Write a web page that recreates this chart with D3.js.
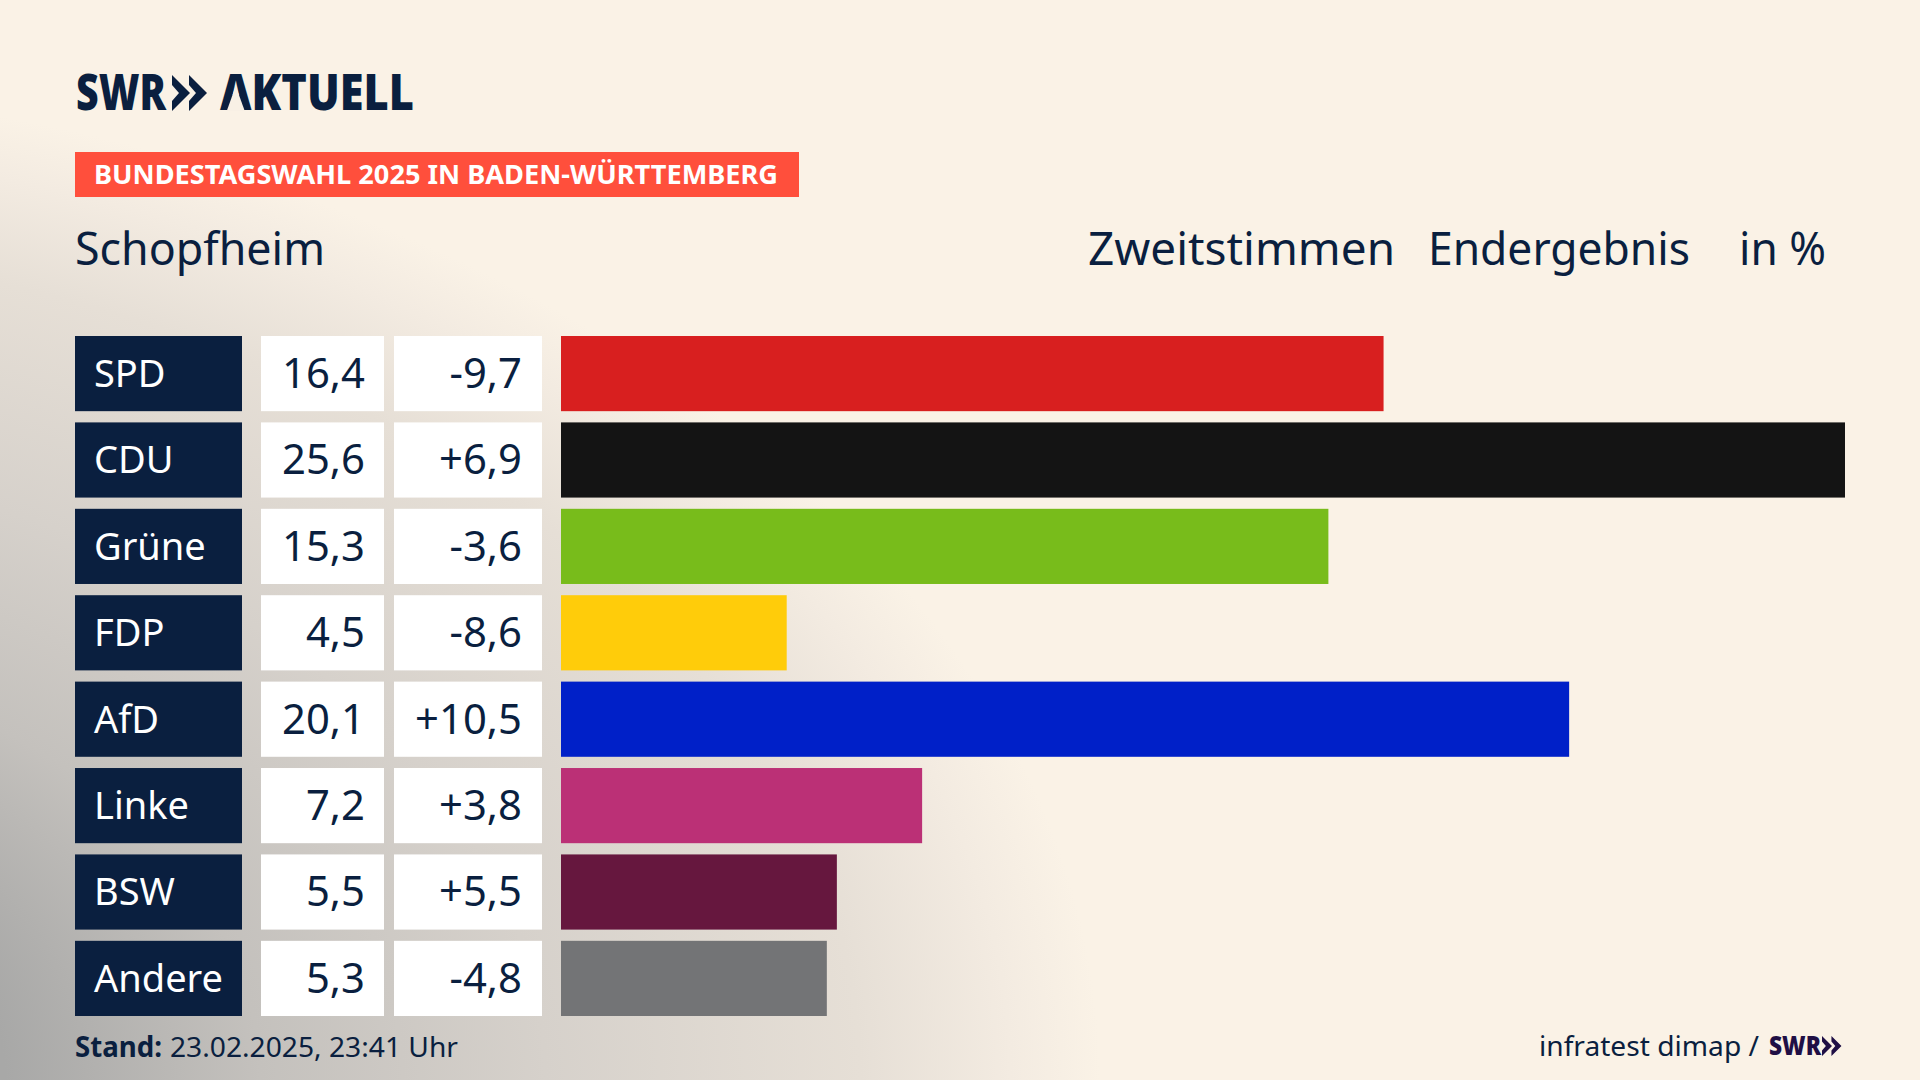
<!DOCTYPE html>
<html><head><meta charset="utf-8">
<script src="https://cdn.jsdelivr.net/npm/d3@7/dist/d3.min.js"></script>
<style>html,body{margin:0;padding:0;background:#FAF2E6;overflow:hidden}svg{display:block}text{font-family:"Noto Sans",sans-serif}</style>
</head><body><svg id="c" width="1920" height="1080"></svg>
<script>
const parties = ["SPD","CDU","Grüne","FDP","AfD","Linke","BSW","Andere"];
const shares = [16.4,25.6,15.3,4.5,20.1,7.2,5.5,5.3];
const changes = [-9.7,6.9,-3.6,-8.6,10.5,3.8,5.5,-4.8];
const colors = ["#D81F1F","#141414","#78BC1B","#FFCC0A","#0020C8","#BB3076","#66173E","#737476"];
const navy = "#0A1F3F";

const svg = d3.select("#c");
const defs = svg.append("defs");
const grad = defs.append("radialGradient").attr("id","bg").attr("gradientUnits","userSpaceOnUse")
  .attr("cx",0).attr("cy",0).attr("r",1)
  .attr("gradientTransform","translate(-400,1080) scale(1500,1000)");
[[0.27,"#A8A8A7"],[0.44,"#C4C1BD"],[0.63,"#D6D1CB"],[0.84,"#E6DFD6"],[0.94,"#F3EBE1"],[1,"#FAF2E6"]]
  .forEach(([o,c])=>grad.append("stop").attr("offset",o).attr("stop-color",c));
svg.append("rect").attr("width",1920).attr("height",1080).attr("fill","url(#bg)");

const x = d3.scaleLinear().domain([0,25.6]).range([561,1845]);
const y = d3.scaleBand().domain(parties).range([336,1016]).paddingInner(0.13);
const fmt = v => v.toFixed(1).replace(".",",");
const fmtD = v => (v>0?"+":"-")+Math.abs(v).toFixed(1).replace(".",",");

function put(str,px,py,size,fill,opt={}){
  const t = svg.append("text").attr("x",px).attr("y",py).attr("font-size",size).attr("fill",fill)
    .attr("font-weight",opt.w||400).attr("text-anchor",opt.a||"start").text(str);
  if(opt.width){t.attr("textLength",opt.width).attr("lengthAdjust","spacingAndGlyphs");}
  if(opt.k){const l=t.node().getComputedTextLength();t.attr("textLength",l*opt.k).attr("lengthAdjust","spacingAndGlyphs");}
  return t;
}
function chevrons(px,py,h,fill){
  const u=h/36, g=svg.append("g").attr("transform",`translate(${px},${py}) scale(${u})`).attr("fill",fill);
  [0,17].forEach(o=>g.append("polygon").attr("transform",`translate(${o},0)`)
    .attr("points","0,0 18,18 0,36 0,26 7,18 0,10"));
}

// logo
put("SWR",76,110,49,navy,{w:900,width:90});
chevrons(172,75,36,navy);
const ak = put("AKTUELL",220,110,49,navy,{w:900,width:194});
const aBox = ak.node().getExtentOfChar(0), ac = aBox.x+aBox.width/2;
svg.append("polygon").attr("fill","#F8F0E5")
  .attr("points",`${ac},86 ${ac+9},111 ${ac-9},111`);

// banner
svg.append("rect").attr("x",75).attr("y",152).attr("width",724).attr("height",45).attr("fill","#FF4F3C");
put("BUNDESTAGSWAHL 2025 IN BADEN-WÜRTTEMBERG",94,184,27,"#fff",{w:700,width:684});

// headers
put("Schopfheim",75,265,45,navy,{width:250});
put("Zweitstimmen",1088,265,45,navy,{width:307});
put("Endergebnis",1428,265,45,navy,{width:262});
put("in %",1739,265,45,navy,{width:87});

// rows
parties.forEach((p,i)=>{
  const top=y(p), h=y.bandwidth(), base=top+51;
  svg.append("rect").attr("x",75).attr("y",top).attr("width",167).attr("height",h).attr("fill",navy);
  svg.append("rect").attr("x",261).attr("y",top).attr("width",123).attr("height",h).attr("fill","#fff");
  svg.append("rect").attr("x",394).attr("y",top).attr("width",148).attr("height",h).attr("fill","#fff");
  svg.append("rect").attr("x",x(0)).attr("y",top).attr("width",x(shares[i])-x(0)).attr("height",h).attr("fill",colors[i]);
  put(p,94,base,38,"#fff",{k:1});
  put(fmt(shares[i]),365,base+1,41,navy,{a:"end",k:1.02});
  put(fmtD(changes[i]),522,base+1,41,navy,{a:"end",k:1.02});
});

// footer
put("Stand:",75,1057,28,navy,{w:700,width:87});
put("23.02.2025, 23:41 Uhr",170,1057,28,navy,{width:288});
put("infratest dimap /",1539,1056,28,navy,{width:220});
put("SWR",1769,1055,27,"#1F0F45",{w:900,width:52});
chevrons(1822,1036,20,"#1F0F45");
</script></body></html>
